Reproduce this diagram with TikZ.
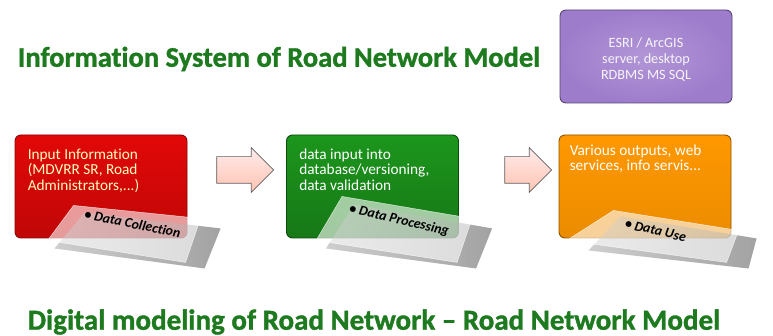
\documentclass[tikz,border=0pt]{standalone}
\usepackage{fontspec}
\setmainfont{Carlito}[Ligatures={TeX,NoCommon}]
\newfontfamily\headfont{Carlito}[Ligatures={TeX,NoCommon},BoldFeatures={FakeBold=1.2}]
\usetikzlibrary{shapes.arrows,positioning}

\definecolor{titlegreen}{RGB}{30,122,30}
\definecolor{collectred}{RGB}{226,8,8}
\definecolor{processgreen}{RGB}{28,150,28}
\definecolor{useorange}{RGB}{255,152,0}
\definecolor{toolpurple}{RGB}{158,124,204}

\begin{document}
\begin{tikzpicture}[
  x=1pt, y=-1pt,
  pbox/.style={draw,rounded corners=6pt,minimum width=172pt,minimum height=103pt,line width=0.9pt},
  ptext/.style={anchor=north west,align=left,inner sep=0pt,font=\fontsize{15.3}{15.5}\selectfont},
  card/.style={fill=white,fill opacity=0.6,draw=white,draw opacity=0.8},
  cshadow/.style={left color=white,right color=black!70,fill opacity=0.25,draw=none},
  ctext/.style={inner sep=0pt,font=\fontsize{13.8}{16}\selectfont\bfseries\itshape},
  farrow/.style={single arrow,draw=gray!75!black,line width=0.7pt,top color=red!8,bottom color=orange!45!red!30,
    single arrow head extend=9pt,inner ysep=13pt,inner xsep=0pt,single arrow head indent=0pt},
  headline/.style={font=\headfont\fontsize{28.5}{32}\selectfont\bfseries,text=titlegreen}
]
  \useasboundingbox (0,0) rectangle (773,336);

  % titles
  \node[headline] (top) at (279,59) {Information System of Road Network Model};
  \node[headline,font=\headfont\fontsize{29}{32}\selectfont\bfseries] (bottom) at (374,322) {Digital modeling of Road Network -- Road Network Model};

  % tools
  \node[pbox,draw=toolpurple!55!black,inner color=toolpurple!80!white,outer color=toolpurple,
    minimum height=93pt] (tools) at (646,56.5) {};
  \node[align=center,text=white!92!toolpurple,font=\fontsize{14.2}{16}\selectfont] (toolstxt)
    at ([yshift=-3pt]tools.center) {ESRI / ArcGIS\\server, desktop\\RDBMS MS SQL};

  % steps
  \node[pbox,draw=collectred!60!black,top color=collectred,bottom color=collectred!85!black] (collect) at (101,186.5) {};
  \node[pbox,draw=processgreen!50!black,top color=processgreen,bottom color=processgreen!80!black] (process) at (372.5,186.5) {};
  \node[pbox,draw=useorange!55!black,top color=useorange,bottom color=useorange!92!black] (use) at (645,186.5) {};

  \node[ptext,text=yellow!25!white] (collecttxt) at ([shift={(13,14)}]collect.north west)
    {Input Information\\(MDVRR SR, Road\\Administrators,...)};
  \node[ptext,text=white] (processtxt) at ([shift={(13,14)}]process.north west)
    {data input into\\database/versioning,\\data validation};
  \node[ptext,text=white] (usetxt) at ([shift={(11,10)}]use.north west)
    {Various outputs, web\\services, info servis...};

  % cards
  \fill[cshadow] ([shift={(70,-26)}]collect.south west) -- ([shift={(206,-10)}]collect.south west)
    -- ([shift={(190,30)}]collect.south west) -- ([shift={(40,10)}]collect.south west) -- cycle;
  \draw[card] ([shift={(59,-33)}]collect.south west) -- ([shift={(186,-20)}]collect.south west)
    -- ([shift={(171,24)}]collect.south west) -- ([shift={(33,2)}]collect.south west) -- cycle;
  \node[ctext,rotate=-11] (collectcard) at ([shift={(118,-15)}]collect.south west) {\textbullet\ Data Collection};

  \fill[cshadow] ([shift={(68,-34)}]process.south west) -- ([shift={(206,-10)}]process.south west)
    -- ([shift={(190,30)}]process.south west) -- ([shift={(40,10)}]process.south west) -- cycle;
  \draw[card] ([shift={(56,-42)}]process.south west) -- ([shift={(186,-20)}]process.south west)
    -- ([shift={(171,24)}]process.south west) -- ([shift={(30,2)}]process.south west) -- cycle;
  \node[ctext,rotate=-13] (processcard) at ([shift={(113,-18)}]process.south west) {\textbullet\ Data Processing};

  \fill[cshadow] ([shift={(62,-22)}]use.south west) -- ([shift={(198,0)}]use.south west)
    -- ([shift={(190,30)}]use.south west) -- ([shift={(30,12)}]use.south west) -- cycle;
  \draw[card] ([shift={(55,-28)}]use.south west) -- ([shift={(180,-8)}]use.south west)
    -- ([shift={(168,24)}]use.south west) -- ([shift={(8,2)}]use.south west) -- cycle;
  \node[ctext,rotate=-13] (usecard) at ([shift={(97,-8)}]use.south west) {\textbullet\ Data Use};

  % arrows
  \node[farrow,minimum height=57pt] (a1) at (238.5,170) {};
  \node[farrow,minimum height=47pt] (a2) at (521.5,170) {};
\end{tikzpicture}
\end{document}
